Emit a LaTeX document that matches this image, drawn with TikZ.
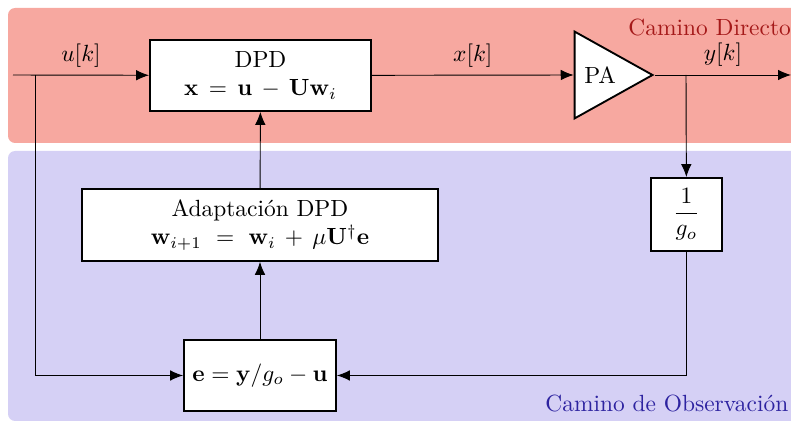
\documentclass[tikz,border=0pt]{standalone}
\usetikzlibrary{arrows.meta,positioning,shapes.geometric}
\definecolor{dirbg}{RGB}{247,168,160}
\definecolor{obsbg}{RGB}{213,208,245}
\definecolor{dirtext}{RGB}{165,25,25}
\definecolor{obstext}{RGB}{45,35,160}
\begin{document}
\begin{tikzpicture}[x=0.427pt,y=-0.427pt,>={Latex[length=5.5pt,width=4.5pt]},
blk/.style={draw,thick,fill=white,align=center},
amp/.style={isosceles triangle,draw,thick,fill=white,isosceles triangle stretches,minimum width=37.1pt,minimum height=33.3pt,inner sep=1pt},
sig/.style={->},
lbl/.style={above},
path/.style={inner sep=0pt,anchor=base west}]
\useasboundingbox (0,0) rectangle (791,422);
\fill[dirbg,rounded corners=3pt] (8,8) rectangle (830,143);
\fill[obsbg,rounded corners=3pt] (8,151) rectangle (830,421);
\node[path,dirtext] (dirlbl) at (628,36) {Camino Directo};
\node[path,obstext] (obslbl) at (545,412) {Camino de Observación};
\node[blk,minimum width=94.4pt,minimum height=30.3pt] (dpd) at (260.5,75.5) {DPD\\$\mathbf{x} \,=\, \mathbf{u} \,-\, \mathbf{U}\mathbf{w}_i$};
\node[amp,anchor=apex] (pa) at (655,75) {PA};
\node[blk,minimum width=152pt,minimum height=30.7pt] (adapt) at (260,225) {Adaptación DPD\\$\mathbf{w}_{i+1}\ =\ \mathbf{w}_i \,+\, \mu\mathbf{U}^\dagger\mathbf{e}$};
\node[blk,minimum width=64.9pt,minimum height=30.3pt] (err) at (260,375.5) {$\mathbf{e} = \mathbf{y}/g_o - \mathbf{u}$};
\node[blk,minimum width=30.3pt,minimum height=31.2pt] (inv) at (686.5,214.5) {$\displaystyle\frac{1}{g_o}$};
\coordinate (in) at (13,75); \coordinate (split) at (35,75);
\coordinate (tap) at (686,75); \coordinate (out) at (791,75);
\draw[sig] (in) -- node[lbl]{$u[k]$} (dpd); \draw[sig] (split) |- (err.west);
\draw[sig] (dpd) -- node[lbl]{$x[k]$} (pa.west); \draw[sig] (pa.apex) -- node[lbl]{$y[k]$} (out);
\draw[sig] (tap) -- (inv); \draw[sig] (inv) |- (err.east);
\draw[sig] (err) -- (adapt); \draw[sig] (adapt) -- (dpd);
\end{tikzpicture}
\end{document}
